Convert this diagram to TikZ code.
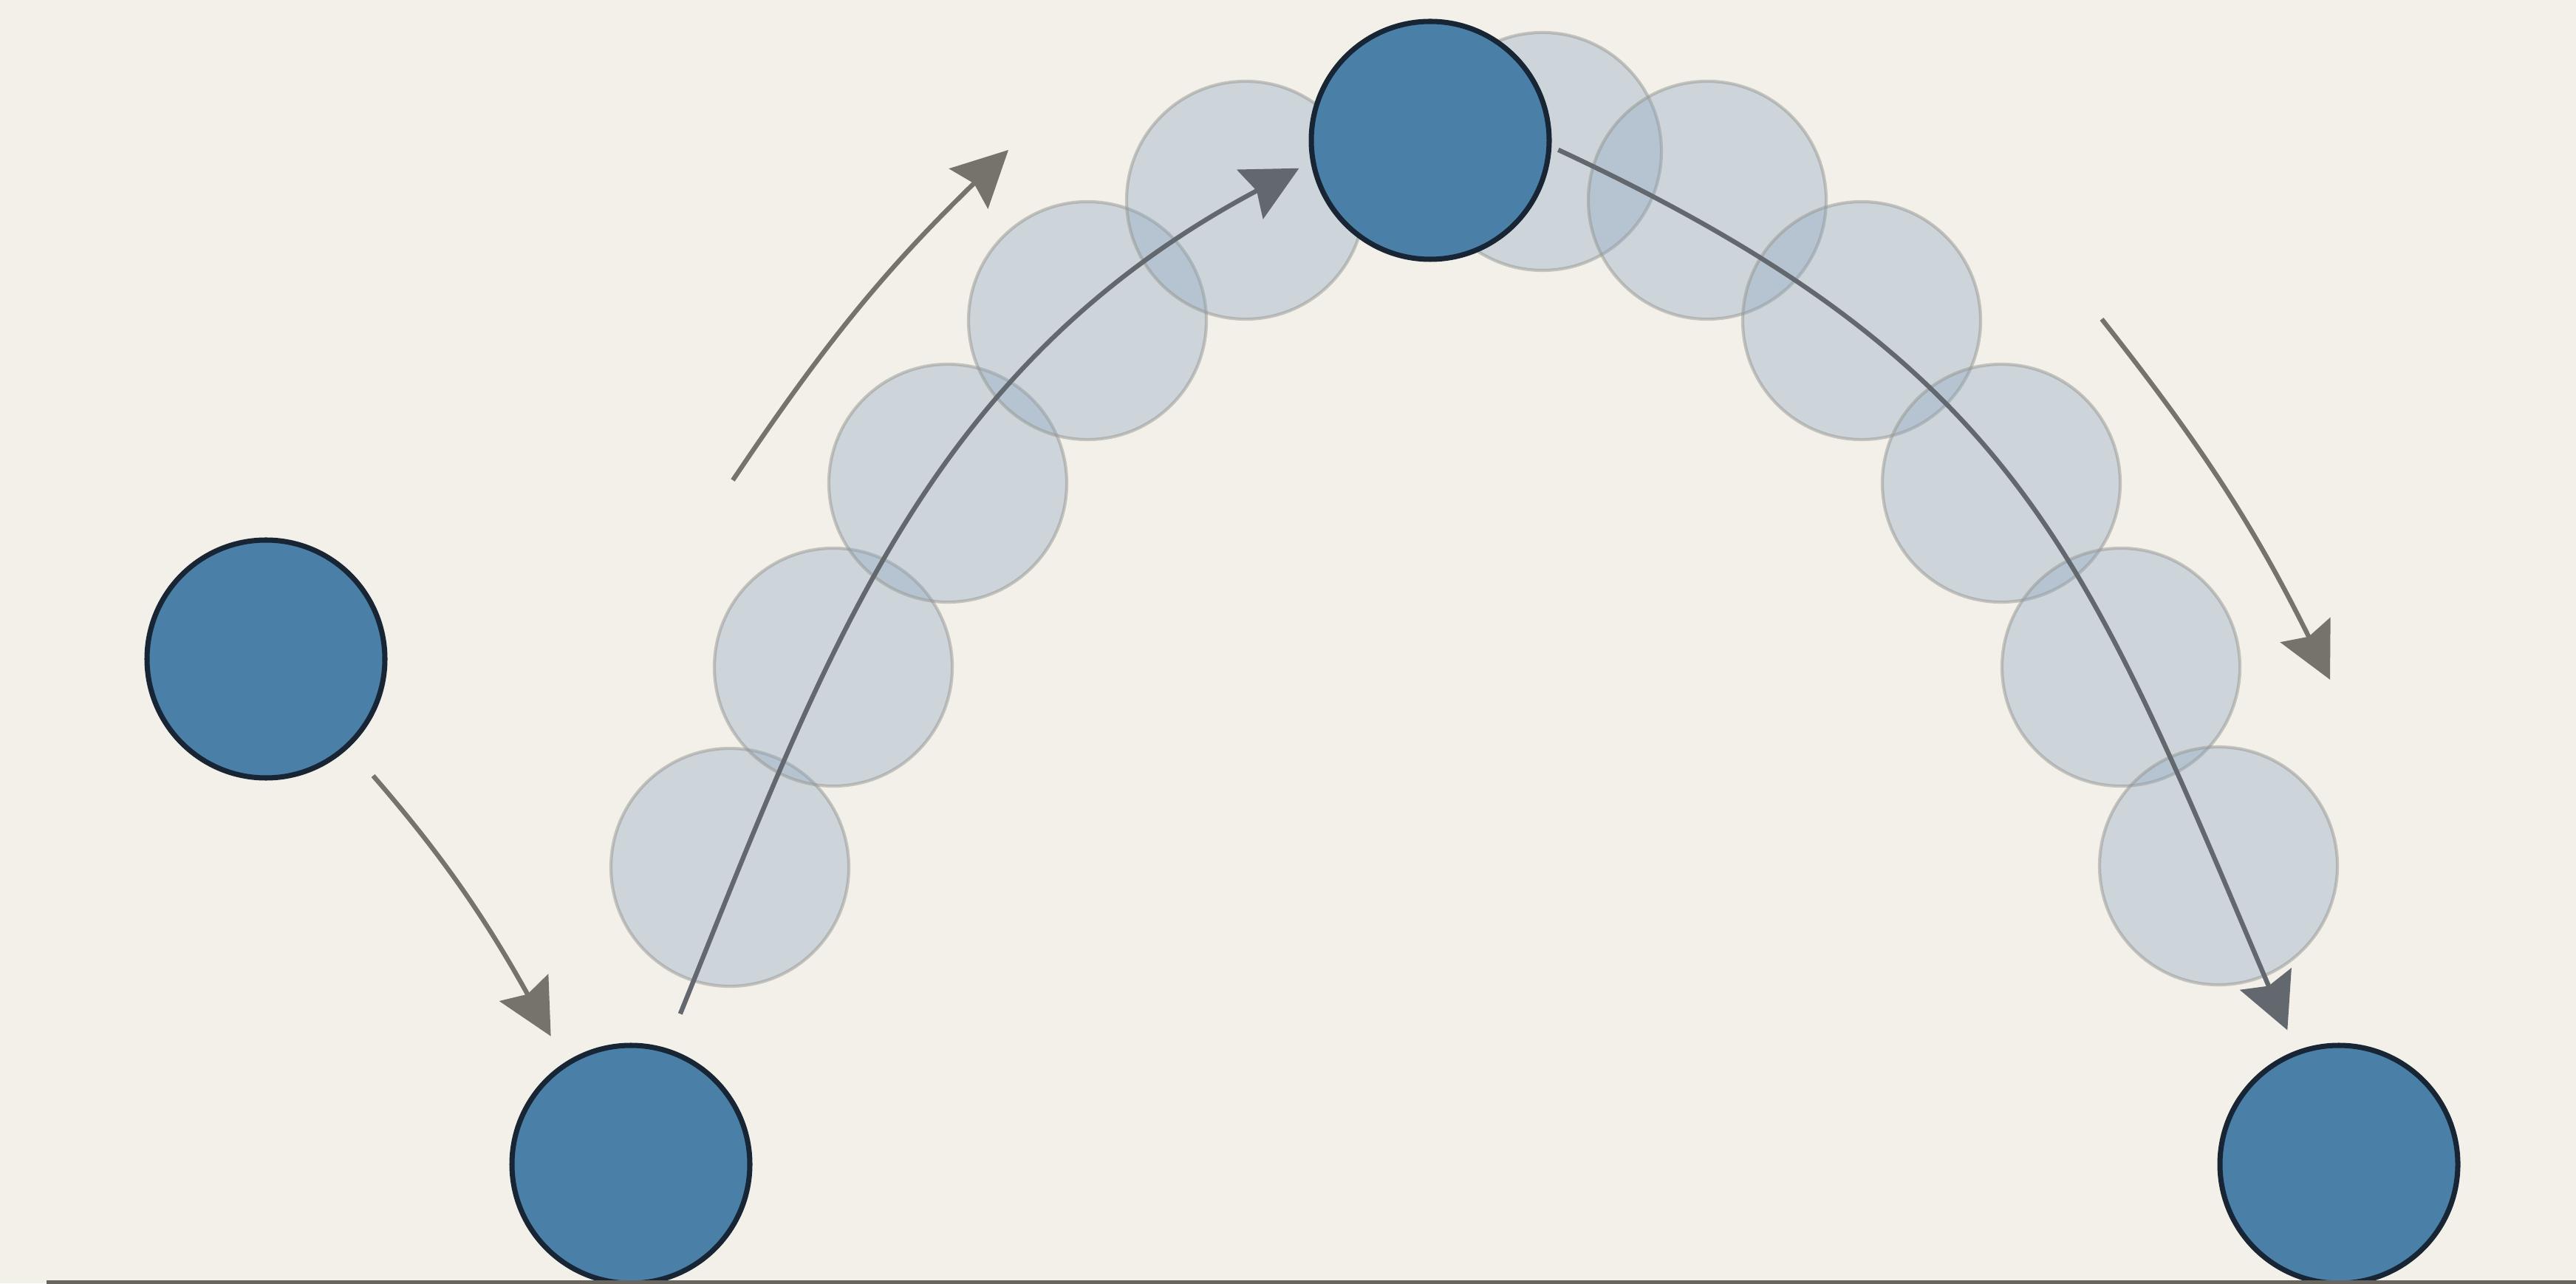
\documentclass[tikz,border=0pt]{standalone}
\usepackage{tikz}
\usepackage{xcolor}
\usetikzlibrary{arrows.meta}

\definecolor{bgcream}{RGB}{242,240,233}
\definecolor{ballblue}{RGB}{74,127,167}
\definecolor{balledge}{RGB}{23,37,53}
\definecolor{ghostblue}{RGB}{138,165,191}
\definecolor{ghostedge}{RGB}{150,150,145}
\definecolor{arrowgray}{RGB}{118,114,108}
\definecolor{pathgray}{RGB}{98,104,110}
\definecolor{groundgray}{RGB}{105,102,96}

\begin{document}
\begin{tikzpicture}[every node/.style={circle, minimum size=32.2mm, inner sep=0pt},
    ball/.style={draw=balledge, fill=ballblue, line width=2pt},
    ghost/.style={draw=ghostedge, fill=ghostblue, fill opacity=0.35, draw opacity=0.5, line width=1.2pt},
    motion/.style={draw=arrowgray, line width=1.8pt, -{Stealth[length=7.5mm, width=7.5mm, inset=1mm]}},
    flight/.style={draw=pathgray, line width=1.8pt, -{Stealth[length=7.5mm, width=7.5mm, inset=1mm]}}]
                \useasboundingbox (0,0) rectangle (34.87,17.37);
                \fill[bgcream] (0,0) rectangle (34.87,17.37);

                % Ghost positions along the flight
                \node[ghost] (g1) at (9.88,5.63) {};
                \node[ghost] (g2) at (11.28,8.34) {};
                \node[ghost] (g3) at (12.83,10.83) {};
                \node[ghost] (g4) at (14.72,13.03) {};
                \node[ghost] (g5) at (16.86,14.66) {};
                \node[ghost] (g6) at (20.88,15.32) {};
                \node[ghost] (g7) at (23.11,14.66) {};
                \node[ghost] (g8) at (25.20,13.03) {};
                \node[ghost] (g9) at (27.09,10.83) {};
                \node[ghost] (g10) at (28.71,8.34) {};
                \node[ghost] (g11) at (30.03,5.65) {};

                % Ball nodes
                \node[ball] (start) at (3.60,8.45) {};
                \node[ball] (bounce) at (8.54,1.61) {};
                \node[ball] (apex) at (19.36,15.47) {};
                \node[ball] (land) at (31.66,1.61) {};

                % Flight path
                \draw[flight, shorten <=5mm] (bounce.73) to[out=68, in=208, looseness=1.0] ([shift={(192:1.7mm)}]apex.192);
                \draw[flight, shorten <=1mm] (apex.-3) to[out=-25, in=113, looseness=1.15] ([shift={(111:3mm)}]land.111);

                % Motion arrows
                \coordinate (riseA) at (9.92,10.87);
                \coordinate (riseB) at (13.65,15.34);
                \coordinate (fallA) at (28.45,13.05);
                \coordinate (fallB) at (31.54,8.17);
                \draw[motion, shorten <=5mm] (start.-47) to[bend left=6] ([shift={(122:4mm)}]bounce.122);
                \draw[motion] (riseA) to[bend left=6] (riseB);
                \draw[motion] (fallA) to[bend left=6] (fallB);

                % Ground
                \draw[groundgray, line width=0.05cm] (0.63,0.02) -- (34.87,0.02);
            \end{tikzpicture}
\end{document}
